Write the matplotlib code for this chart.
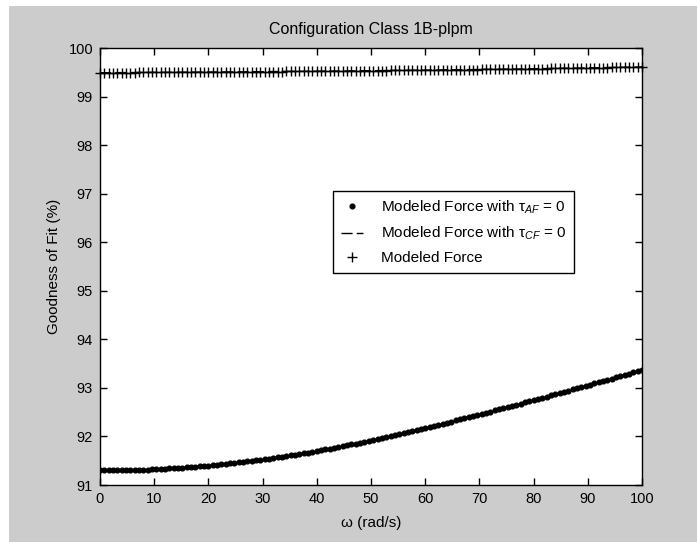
import matplotlib
matplotlib.use("Agg")
import matplotlib.pyplot as plt
from matplotlib.patches import Rectangle
import numpy as np

# omega sampled every 0.8 rad/s (126 points)
omega = np.arange(126) * 0.8

# goodness of fit, modeled force with tau_AF = 0 (lower dotted curve)
fit_af = [
    91.300, 91.300, 91.301, 91.301, 91.303, 91.304, 91.306, 91.308, 91.310, 91.313,
    91.316, 91.319, 91.323, 91.327, 91.331, 91.336, 91.341, 91.346, 91.352, 91.358,
    91.364, 91.371, 91.377, 91.385, 91.392, 91.400, 91.408, 91.417, 91.425, 91.435,
    91.444, 91.454, 91.464, 91.474, 91.485, 91.496, 91.507, 91.519, 91.531, 91.543,
    91.556, 91.569, 91.582, 91.596, 91.610, 91.624, 91.639, 91.653, 91.669, 91.684,
    91.700, 91.716, 91.733, 91.749, 91.766, 91.783, 91.801, 91.818, 91.836, 91.854,
    91.873, 91.891, 91.910, 91.930, 91.949, 91.969, 91.988, 92.008, 92.029, 92.049,
    92.069, 92.090, 92.111, 92.132, 92.153, 92.175, 92.197, 92.218, 92.240, 92.262,
    92.285, 92.307, 92.329, 92.352, 92.375, 92.397, 92.420, 92.443, 92.467, 92.490,
    92.513, 92.537, 92.560, 92.584, 92.607, 92.631, 92.655, 92.678, 92.702, 92.726,
    92.750, 92.774, 92.798, 92.822, 92.847, 92.871, 92.895, 92.920, 92.944, 92.969,
    92.993, 93.018, 93.043, 93.067, 93.092, 93.117, 93.143, 93.168, 93.193, 93.219,
    93.245, 93.270, 93.296, 93.322, 93.349, 93.375,
]

# goodness of fit, modeled force with tau_CF = 0 (upper dashed line)
fit_cf = [
    99.490, 99.491, 99.491, 99.492, 99.493, 99.493, 99.494, 99.494, 99.495, 99.496,
    99.496, 99.497, 99.498, 99.498, 99.499, 99.499, 99.500, 99.500, 99.501, 99.502,
    99.502, 99.503, 99.503, 99.504, 99.504, 99.505, 99.506, 99.506, 99.507, 99.508,
    99.508, 99.509, 99.509, 99.510, 99.511, 99.511, 99.512, 99.513, 99.513, 99.514,
    99.515, 99.516, 99.516, 99.517, 99.518, 99.519, 99.519, 99.520, 99.521, 99.521,
    99.522, 99.523, 99.524, 99.525, 99.526, 99.526, 99.527, 99.528, 99.529, 99.530,
    99.531, 99.532, 99.533, 99.533, 99.534, 99.535, 99.536, 99.537, 99.538, 99.539,
    99.540, 99.541, 99.542, 99.543, 99.544, 99.545, 99.546, 99.547, 99.548, 99.549,
    99.550, 99.551, 99.552, 99.553, 99.554, 99.555, 99.556, 99.557, 99.559, 99.560,
    99.561, 99.562, 99.563, 99.564, 99.565, 99.566, 99.567, 99.569, 99.570, 99.571,
    99.572, 99.573, 99.575, 99.576, 99.578, 99.579, 99.581, 99.582, 99.584, 99.585,
    99.586, 99.588, 99.589, 99.591, 99.592, 99.594, 99.596, 99.597, 99.599, 99.600,
    99.602, 99.604, 99.605, 99.607, 99.608, 99.610,
]

# full modeled force lies on top of the tau_CF = 0 line
fit_full = list(fit_cf)

plt.rcParams['font.family'] = ['Liberation Sans', 'DejaVu Sans']
plt.rcParams['mathtext.fontset'] = 'custom'
plt.rcParams['mathtext.rm'] = 'Liberation Sans'
plt.rcParams['mathtext.it'] = 'Liberation Sans:italic'

W, H = 697, 542
fig = plt.figure(figsize=(W / 100, H / 100), dpi=100, facecolor='white')
# grey MATLAB-style figure background, small white margin at left/top
fig.patches.append(Rectangle((9 / W, 0), 1 - 9 / W, 1 - 6 / H, transform=fig.transFigure,
                             facecolor='#cccccc', edgecolor='none', zorder=-10))

ax = fig.add_axes([100 / W, 1 - 485 / H, 542 / W, 437 / H])
ax.set_facecolor('white')

ax.plot(omega, fit_af, linestyle='none', marker='o', markersize=3.4, color='black',
        label='Modeled Force with τ$_{AF}$ = 0')
ax.plot(omega, fit_cf, linestyle='--', dashes=(8, 3), linewidth=1, color='black',
        label='Modeled Force with τ$_{CF}$ = 0')
ax.plot(omega, fit_full, linestyle='none', marker='+', markersize=6.5, markeredgewidth=1,
        color='black', clip_on=False, label='Modeled Force')

ax.set_xlim(0, 100)
ax.set_ylim(91, 100)
ax.set_xticks(np.arange(0, 101, 10))
ax.set_yticks(np.arange(91, 101, 1))
ax.tick_params(direction='in', length=5, width=1, top=True, right=True,
               labelsize=10.5, pad=5, colors='black')
for s in ax.spines.values():
    s.set_linewidth(1)
    s.set_color('black')

ax.set_title('Configuration Class 1B-plpm', fontsize=11.5, pad=10)
ax.set_xlabel('ω (rad/s)', fontsize=11, labelpad=7)
ax.set_ylabel('Goodness of Fit (%)', fontsize=11, labelpad=5)

leg = ax.legend(loc='upper left', bbox_to_anchor=(333 / W, 1 - 191 / H),
                bbox_transform=fig.transFigure, borderaxespad=0, fancybox=False,
                edgecolor='black', framealpha=1, handlelength=1.45, handletextpad=1.2,
                borderpad=0.5, labelspacing=0.58, fontsize=11)
leg.get_frame().set_linewidth(1)

fig.savefig('out.png', dpi=100, facecolor=fig.get_facecolor())
